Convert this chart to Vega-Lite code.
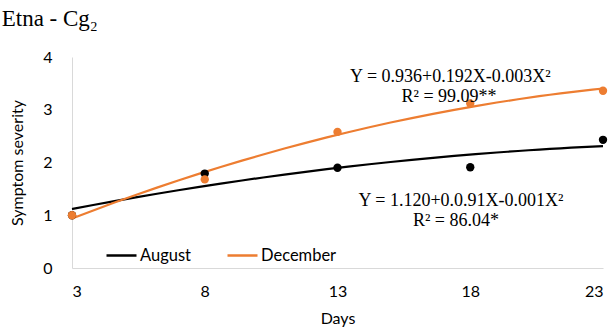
{
  "$schema": "https://vega.github.io/schema/vega-lite/v6.json",
  "width": 531,
  "height": 211,
  "autosize": "none",
  "padding": {"left": 72, "top": 57, "right": 8, "bottom": 61},
  "background": "white",
  "title": {"text": "Etna - Cg₂", "anchor": "start", "font": "Liberation Serif", "fontSize": 23, "fontWeight": "normal", "color": "#000000", "dx": -8, "offset": 18},
  "config": {
    "view": {"stroke": null},
    "axis": {"domainColor": "#d9d9d9", "ticks": false, "grid": false, "labelFont": "Lato", "labelFontSize": 16, "labelColor": "#000000", "titleFont": "Lato", "titleFontSize": 16, "titleFontWeight": "normal", "titleColor": "#000000"}
  },
  "datasets": {
    "obs": [
      {"series": "August", "day": 3, "severity": 1.0},
      {"series": "August", "day": 8, "severity": 1.79},
      {"series": "August", "day": 13, "severity": 1.9},
      {"series": "August", "day": 18, "severity": 1.91},
      {"series": "August", "day": 23, "severity": 2.43},
      {"series": "December", "day": 3, "severity": 1.0},
      {"series": "December", "day": 8, "severity": 1.68},
      {"series": "December", "day": 13, "severity": 2.58},
      {"series": "December", "day": 18, "severity": 3.12},
      {"series": "December", "day": 23, "severity": 3.36}
    ],
    "notes": [
      {"label": "Y = 0.936+0.192X-0.003X²", "day": 17.25, "severity": 3.62},
      {"label": "R² = 99.09**", "day": 17.2, "severity": 3.25},
      {"label": "Y = 1.120+0.0.91X-0.001X²", "day": 17.65, "severity": 1.27},
      {"label": "R² = 86.04*", "day": 17.46, "severity": 0.9}
    ]
  },
  "layer": [
    {
      "data": {"name": "obs"},
      "transform": [
        {"regression": "severity", "on": "day", "groupby": ["series"], "method": "poly", "order": 2, "extent": [3, 23]}
      ],
      "mark": {"type": "line", "strokeWidth": 2.2, "interpolate": "monotone"},
      "encoding": {
        "x": {"field": "day", "type": "quantitative", "scale": {"domain": [3, 23], "nice": false, "zero": false}, "axis": {"values": [3, 8, 13, 18, 23], "format": "d", "title": "Days", "labelPadding": 15, "titlePadding": 11}},
        "y": {"field": "severity", "type": "quantitative", "scale": {"domain": [0, 4], "nice": false}, "axis": {"values": [0, 1, 2, 3, 4], "format": "d", "title": "Symptom severity", "labelPadding": 20, "titlePadding": 17}},
        "color": {"field": "series", "type": "nominal", "scale": {"domain": ["August", "December"], "range": ["#000000", "#ED7D31"]},
          "legend": {"title": null, "orient": "none", "legendX": 33, "legendY": 182, "direction": "horizontal", "symbolType": "stroke", "symbolSize": 900, "symbolStrokeWidth": 2.5, "labelFont": "Lato", "labelFontSize": 16.5, "labelColor": "#000000", "labelOffset": 2, "columnPadding": 30}}
      }
    },
    {
      "data": {"name": "obs"},
      "mark": {"type": "circle", "size": 70, "opacity": 1},
      "encoding": {
        "x": {"field": "day", "type": "quantitative"},
        "y": {"field": "severity", "type": "quantitative"},
        "color": {"field": "series", "type": "nominal", "legend": null},
        "order": {"field": "series"}
      }
    },
    {
      "data": {"name": "notes"},
      "mark": {"type": "text", "font": "Liberation Serif", "fontSize": 18, "color": "#000000", "align": "center", "baseline": "middle"},
      "encoding": {
        "x": {"field": "day", "type": "quantitative"},
        "y": {"field": "severity", "type": "quantitative"},
        "text": {"field": "label"}
      }
    }
  ]
}
